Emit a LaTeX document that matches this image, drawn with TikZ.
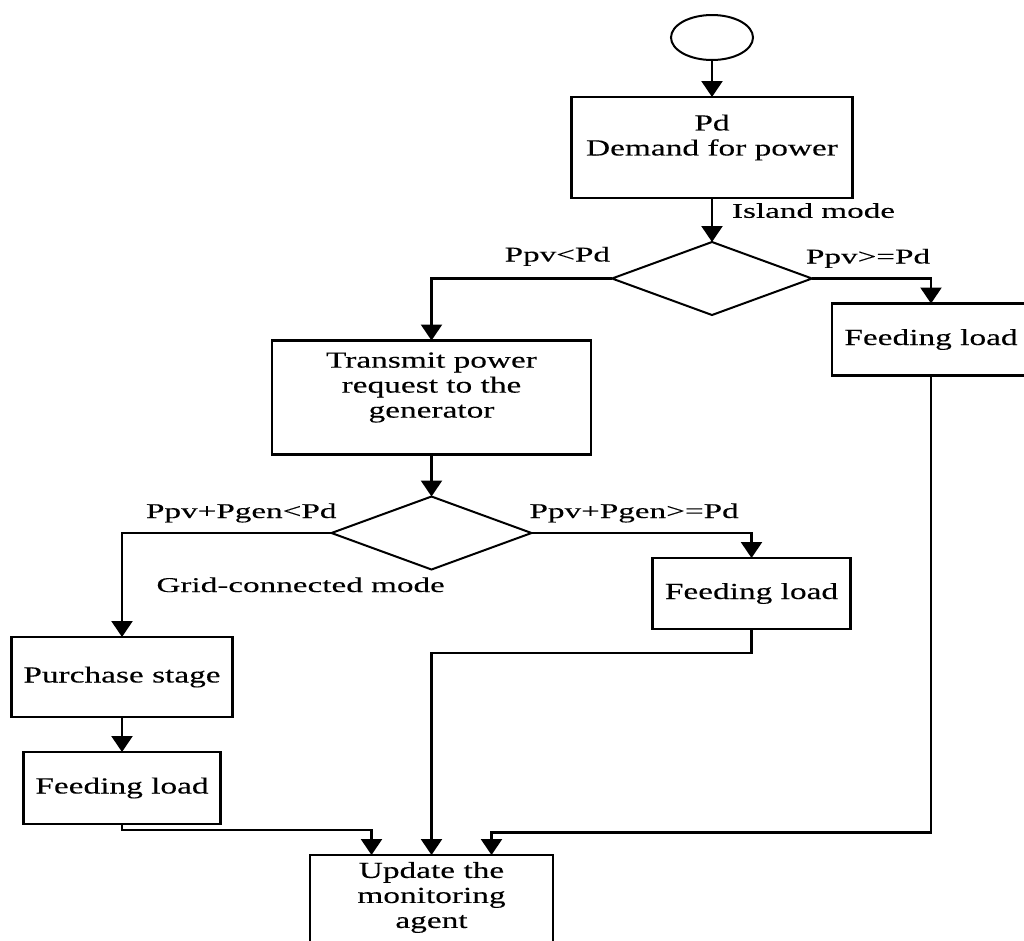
\documentclass[tikz,border=0pt]{standalone}
\usepackage{fontspec}
\setmainfont{Liberation Serif}[FakeStretch=1.45,FakeBold=0.2]
\newfontfamily\labfont{Liberation Serif}[FakeStretch=1.58,FakeBold=0.2]
\usetikzlibrary{arrows.meta,positioning,shapes.geometric}

\begin{document}
\begin{tikzpicture}[x=1pt,y=1pt,>={Triangle[length=16pt,width=21pt]},line width=2.4pt,every node/.style={font=\fontsize{23}{25}\selectfont,outer sep=0pt}]
\tikzstyle{box}=[draw,rectangle,align=center,inner sep=7pt,fill=white]
\tikzstyle{dec}=[draw,diamond,minimum width=200pt,minimum height=73pt,inner sep=0pt,line width=2pt]
\tikzstyle{lab}=[font=\labfont\fontsize{21}{23}\selectfont,inner sep=0pt]
\useasboundingbox (0,0) rectangle (1024,-940);
% main column
\node[draw,ellipse,minimum width=82pt,minimum height=45pt,inner sep=0pt,line width=2pt] (st) at (712,-37.5) {};
\node[box,minimum width=281pt,minimum height=101pt,below=37pt of st] (pd) {Pd\\Demand for power\\~};
\node[dec,below=44pt of pd] (d1) {};
\node[box,minimum width=198pt,minimum height=72pt,below right=25pt and 20pt of d1.east] (fa) {Feeding load};
\node[box,minimum width=319pt,minimum height=114pt,below left=62pt and 21pt of d1.west] (tx) {Transmit power\\request to the\\generator\\~};
\node[dec,below=42pt of tx] (d2) {};
\node[box,minimum width=198pt,minimum height=71pt,below right=25pt and 121pt of d2.east] (fb) {Feeding load};
\node[box,minimum width=221pt,minimum height=80pt,below left=104pt and 99pt of d2.west] (buy) {Purchase stage};
\node[box,minimum width=197pt,minimum height=72pt,below=35pt of buy] (fc) {Feeding load};
\node[box,minimum width=243pt,anchor=north] (up) at (431.5,-855) {Update the\\monitoring\\agent\\~};
% connectors
\draw[->] (st)--(pd);
\draw[->] (pd)-- node[lab,anchor=base west,pos=0.45,xshift=20pt]{Island mode} (d1);
\draw[->] (d1.west) -| node[lab,anchor=base east,pos=0,xshift=-2pt,yshift=17pt]{Ppv<Pd} (tx.north);
\draw[->] (d1.east) -| node[lab,anchor=base west,pos=0,xshift=-6pt,yshift=15pt]{Ppv>=Pd} (fa.north);
\draw[->] (tx)--(d2);
\draw[->] (d2.west) -| node[lab,anchor=base east,pos=0,xshift=5pt,yshift=15pt]{Ppv+Pgen<Pd}
  node[lab,anchor=base west,pos=0,xshift=-175pt,yshift=-59pt]{Grid-connected mode} (buy.north);
\draw[->] (d2.east) -| node[lab,anchor=base west,pos=0,xshift=-2pt,yshift=15pt]{Ppv+Pgen>=Pd} (fb.north);
\draw[->] (buy)--(fc);
\draw[->] (fc.south) -- ++(0,-6) -| ([xshift=-60pt]up.north);
\draw[->] (fb.south) -- ++(0,-24) -| (up.north);
\draw[->] (fa.south) -- ++(0,-457) -| ([xshift=60pt]up.north);
\end{tikzpicture}
\end{document}
